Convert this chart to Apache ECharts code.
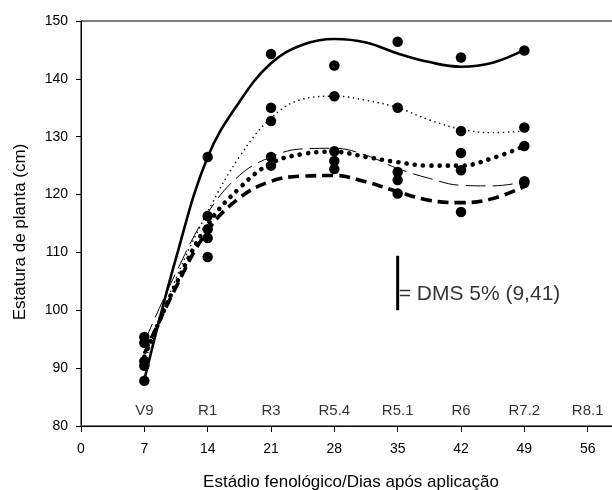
<!DOCTYPE html>
<html>
<head>
<meta charset="utf-8">
<script src="https://cdn.jsdelivr.net/npm/echarts@6/dist/echarts.min.js"></script>
<style>
  html, body { margin: 0; padding: 0; background: #fff; }
  #chart { width: 612px; height: 490px; }
</style>
</head>
<body>
<div id="chart"></div>
<script>
'use strict';

// observed points (days after application)
var days = [7, 14, 21, 28, 35, 42, 49];
var ptsA = [87.8, 126.5, 144.3, 142.3, 146.4, 143.7, 144.9];
var ptsB = [90.4, 116.3, 132.7, 137.0, 135.0, 131.0, 131.6];
var ptsC = [95.4, 114.0, 135.0, 127.5, 123.9, 124.2, 122.3];
var ptsD = [91.2, 112.5, 126.5, 125.8, 122.5, 127.2, 128.4];
var ptsE = [94.4, 109.2, 125.0, 124.4, 120.2, 117.0, 122.0];

// fitted curves
var curveDays = [7, 10.5, 14, 17.5, 21, 24.5, 28, 31.5, 35, 38.5, 42, 45.5, 49];
var fitA = [88.0, 109.0, 126.5, 136.0, 142.7, 145.9, 146.9, 146.3, 144.4, 142.9, 142.1, 142.8, 145.0];
var fitB = [91.0, 105.5, 117.0, 126.5, 133.2, 136.5, 137.0, 136.3, 135.0, 132.9, 131.3, 130.7, 131.0];
var fitC = [94.5, 106.5, 116.8, 123.3, 126.5, 127.9, 128.0, 126.8, 124.5, 122.8, 121.6, 121.5, 122.2];
var fitD = [92.0, 104.5, 114.8, 121.1, 125.4, 127.0, 127.4, 126.5, 125.6, 125.0, 125.0, 126.3, 128.4];
var fitE = [92.5, 104.0, 113.8, 119.4, 122.3, 123.2, 123.3, 122.2, 120.5, 119.0, 118.6, 119.3, 121.4];

// stage labels along the bottom of the plot
var stageDays = [7, 14, 21, 28, 35, 42, 49, 56];
var stageLabels = ['V9', 'R1', 'R3', 'R5.4', 'R5.1', 'R6', 'R7.2', 'R8.1'];

// least significant difference bar
var dmsDay = 35;
var dmsBase = 100;
var dmsValue = 9.41;

var font = 'Liberation Sans, Arial, Helvetica, sans-serif';

function zip(xs, ys) {
  return xs.map(function (x, i) { return [x, ys[i]]; });
}

function merge(a, b) {
  for (var k in b) { a[k] = b[k]; }
  return a;
}

var chart = echarts.init(document.getElementById('chart'));

var fitStyles = [
  { width: 2.6, type: 'solid' },
  { width: 1.4, type: [1.4, 3.6] },
  { width: 1, type: [20, 7] },
  { width: 4.6, type: [0.1, 8.2], cap: 'round' },
  { width: 3.6, type: [11, 6] }
];
var fits = [fitA, fitB, fitC, fitD, fitE];
var pts = [ptsA, ptsB, ptsC, ptsD, ptsE];

var series = [];
fits.forEach(function (f, i) {
  series.push({
    type: 'line',
    data: zip(curveDays, f),
    smooth: 0.4,
    showSymbol: false,
    silent: true,
    lineStyle: merge({ color: '#000' }, fitStyles[i]),
    z: 2
  });
});
pts.forEach(function (p) {
  series.push({
    type: 'scatter',
    data: zip(days, p),
    symbol: 'circle',
    symbolSize: 10.5,
    itemStyle: { color: '#000', opacity: 1 },
    z: 3
  });
});

// stage names
series.push({
  type: 'scatter',
  data: stageDays.map(function (d) { return [d, 82.7]; }),
  symbolSize: 0,
  silent: true,
  label: {
    show: true,
    position: 'inside',
    color: '#000',
    fontFamily: font,
    fontSize: 15,
    formatter: function (p) { return stageLabels[p.dataIndex]; }
  }
});

// DMS bar and text
series.push({
  type: 'line',
  data: [[dmsDay, dmsBase], [dmsDay, dmsBase + dmsValue]],
  showSymbol: false,
  silent: true,
  lineStyle: { color: '#000', width: 3 }
});
series.push({
  type: 'scatter',
  data: [[dmsDay, 102.8]],
  symbolSize: 0,
  silent: true,
  label: {
    show: true,
    position: 'right',
    distance: 1,
    color: '#000',
    fontFamily: font,
    fontSize: 21,
    formatter: '= DMS 5% (9,41)'
  }
});

var option = {
  animation: false,
  backgroundColor: '#fff',
  grid: {
    left: 81,
    top: 21,
    width: 570,
    height: 405,
    outerBoundsMode: 'none',
    show: true,
    borderColor: '#000',
    borderWidth: 1
  },
  xAxis: {
    type: 'value',
    min: 0,
    max: 63,
    interval: 7,
    splitLine: { show: false },
    axisLine: { lineStyle: { color: '#000', width: 1 } },
    axisTick: { length: 6, lineStyle: { color: '#000' } },
    axisLabel: { color: '#000', fontFamily: font, fontSize: 14, margin: 16 }
  },
  yAxis: {
    type: 'value',
    min: 80,
    max: 150,
    interval: 10,
    splitLine: { show: false },
    axisLine: { show: true, lineStyle: { color: '#000', width: 1 } },
    axisTick: { show: true, length: 5, lineStyle: { color: '#000' } },
    axisLabel: { color: '#000', fontFamily: font, fontSize: 14, margin: 13 }
  },
  graphic: [{
    type: 'text',
    x: 351,
    y: 482,
    style: {
      text: 'Estádio fenológico/Dias após aplicação', fill: '#000', font: '17px ' + font,
      align: 'center', verticalAlign: 'middle'
    }
  }, {
    type: 'text',
    x: 20,
    y: 232,
    rotation: Math.PI / 2,
    style: {
      text: 'Estatura de planta (cm)', fill: '#000', font: '17px ' + font,
      align: 'center', verticalAlign: 'middle'
    }
  }],
  series: series
};

chart.setOption(option);
</script>
</body>
</html>
